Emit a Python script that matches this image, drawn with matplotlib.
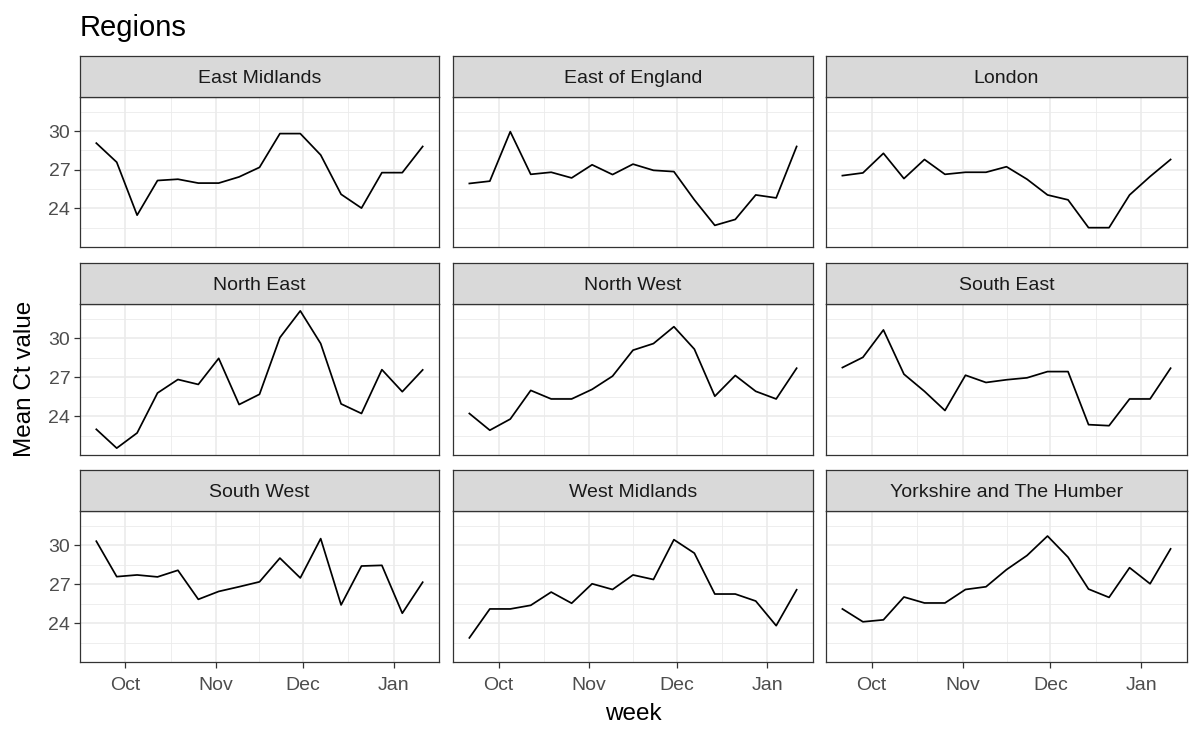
import matplotlib

matplotlib.use("Agg")
import numpy as np
import matplotlib.pyplot as plt
import matplotlib.dates as mdates

plt.rcParams["font.family"] = ["Liberation Sans", "DejaVu Sans"]

############### DATA ################
weeks = np.array([
    "2020-09-21", "2020-09-28", "2020-10-05", "2020-10-12", "2020-10-19",
    "2020-10-26", "2020-11-02", "2020-11-09", "2020-11-16", "2020-11-23",
    "2020-11-30", "2020-12-07", "2020-12-14", "2020-12-21", "2020-12-28",
    "2021-01-04", "2021-01-11",
], dtype="datetime64[D]")

regions = [
    "East Midlands", "East of England", "London",
    "North East", "North West", "South East",
    "South West", "West Midlands", "Yorkshire and The Humber",
]

east_midlands = [29.06, 27.58, 23.47, 26.16, 26.26, 25.96, 25.96, 26.44, 27.18,
                 29.80, 29.80, 28.14, 25.09, 24.02, 26.77, 26.77, 28.80]
east_of_england = [25.93, 26.11, 29.95, 26.64, 26.80, 26.36, 27.38, 26.62, 27.43,
                   26.95, 26.85, 24.66, 22.68, 23.14, 25.04, 24.81, 28.80]
london = [26.54, 26.75, 28.27, 26.31, 27.79, 26.64, 26.80, 26.80, 27.23,
          26.26, 25.04, 24.66, 22.50, 22.50, 25.04, 26.47, 27.79]
north_east = [22.98, 21.53, 22.70, 25.78, 26.82, 26.44, 28.45, 24.89, 25.68,
              30.05, 32.11, 29.59, 24.94, 24.20, 27.58, 25.88, 27.56]
north_west = [24.20, 22.91, 23.77, 25.98, 25.32, 25.32, 26.06, 27.08, 29.08,
              29.59, 30.89, 29.16, 25.53, 27.13, 25.91, 25.32, 27.69]
south_east = [27.74, 28.53, 30.64, 27.23, 25.91, 24.43, 27.15, 26.59, 26.80,
              26.95, 27.43, 27.43, 23.34, 23.26, 25.32, 25.32, 27.69]
south_west = [30.31, 27.58, 27.71, 27.56, 28.07, 25.83, 26.44, 26.80, 27.18,
              29.01, 27.48, 30.51, 25.40, 28.40, 28.45, 24.76, 27.15]
west_midlands = [22.86, 25.09, 25.09, 25.37, 26.39, 25.53, 27.03, 26.59, 27.71,
                 27.36, 30.43, 29.39, 26.24, 26.24, 25.70, 23.80, 26.57]
yorkshire = [25.09, 24.10, 24.25, 26.01, 25.55, 25.55, 26.59, 26.80, 28.12,
             29.21, 30.71, 29.08, 26.62, 25.98, 28.27, 27.03, 29.72]

series = [east_midlands, east_of_england, london,
          north_east, north_west, south_east,
          south_west, west_midlands, yorkshire]

y_breaks = [24, 27, 30]
month_breaks = np.array(["2020-10-01", "2020-11-01", "2020-12-01", "2021-01-01"],
                        dtype="datetime64[D]")

############### LAYOUT (pixels) ##################
W, H = 1200, 741
col_x = [(80, 439), (453, 813), (826, 1187)]
row_y = [(97, 247), (304, 455), (511, 662)]
strip_h = 41

fig = plt.figure(figsize=(W / 100, H / 100), dpi=100)

# shared limits with ggplot-like 5% expansion
allv = np.concatenate([np.array(s) for s in series])
ymin, ymax = allv.min(), allv.max()
ypad = (ymax - ymin) * 0.05
x0 = mdates.date2num(weeks[0])
x1 = mdates.date2num(weeks[-1])
xpad = (x1 - x0) * 0.05

# minor breaks: midpoints between majors (extended by one on each side)
mb = mdates.date2num(month_breaks)
ext = np.concatenate([[mb[0] - 31], mb, [mb[-1] + 31]])
x_minor = (ext[:-1] + ext[1:]) / 2
y_ext = [y_breaks[0] - 3] + y_breaks + [y_breaks[-1] + 3]
y_minor = [(a + b) / 2 for a, b in zip(y_ext[:-1], y_ext[1:])]

border = "#333333"

for i, (name, vals) in enumerate(zip(regions, series)):
    r, c = divmod(i, 3)
    xl, xr = col_x[c]
    yt, yb = row_y[r]
    ax = fig.add_axes([xl / W, 1 - yb / H, (xr - xl) / W, (yb - yt) / H])
    ax.plot(weeks, vals, color="black", lw=1.25)

    ax.set_xlim(x0 - xpad, x1 + xpad)
    ax.set_ylim(ymin - ypad, ymax + ypad)
    ax.set_xticks(mdates.date2num(month_breaks))
    ax.set_xticks(x_minor, minor=True)
    ax.set_yticks(y_breaks)
    ax.set_yticks(y_minor, minor=True)
    ax.xaxis.set_major_formatter(mdates.DateFormatter("%b"))

    ax.grid(which="major", color="#EBEBEB", lw=1.2)
    ax.grid(which="minor", color="#EBEBEB", lw=0.6)
    ax.set_axisbelow(True)
    for sp in ax.spines.values():
        sp.set_color(border)
        sp.set_linewidth(0.9)

    ax.tick_params(which="minor", length=0)
    ax.tick_params(which="major", length=4, width=0.9, color=border,
                   labelsize=14, labelcolor="#4D4D4D", pad=3)
    ax.tick_params(axis="x", pad=7)
    if c != 0:
        ax.tick_params(axis="y", left=False, labelleft=False)
    if r != 2:
        ax.tick_params(axis="x", bottom=False, labelbottom=False)

    # facet strip
    sax = fig.add_axes([xl / W, 1 - yt / H, (xr - xl) / W, strip_h / H])
    sax.set_facecolor("#D9D9D9")
    sax.set_xticks([])
    sax.set_yticks([])
    for sp in sax.spines.values():
        sp.set_color(border)
        sp.set_linewidth(0.9)
    sax.text(0.5, 0.45, name, ha="center", va="center", fontsize=14,
             color="#1A1A1A", transform=sax.transAxes)

fig.text(80 / W, 1 - 28 / H, "Regions", ha="left", va="center", fontsize=21)
fig.text(633 / W, 1 - 714 / H, "week", ha="center", va="center", fontsize=17.5)
fig.text(25 / W, 1 - 379 / H, "Mean Ct value", ha="center", va="center",
         rotation=90, fontsize=17.5)

fig.savefig("out.png", dpi=100)
